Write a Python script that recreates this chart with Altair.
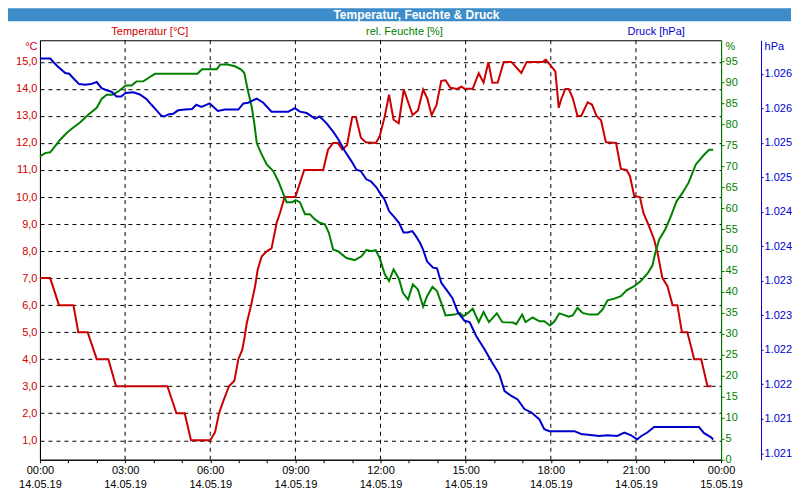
import altair as alt
import pandas as pd

RED = "#cc0000"
GREEN = "#008000"
BLUE = "#0000cc"
BAR = "#3c8dc9"
FONT = "Liberation Sans"

# ---- data (hours since 14.05.19 00:00) ----
temp_hours = [0.00, 0.36, 0.67, 1.18, 1.35, 1.68, 2.00, 2.41, 2.68, 4.49,
              4.81, 5.10, 5.32, 6.00, 6.17, 6.31, 6.46, 6.66, 6.85, 6.99,
              7.13, 7.20, 7.29, 7.44, 7.58, 7.67, 7.81, 8.00, 8.16, 8.34,
              8.46, 8.62, 9.00, 9.31, 9.98, 10.15, 10.33, 10.50, 10.65, 10.82,
              11.00, 11.13, 11.31, 11.48, 11.84, 11.97, 12.15, 12.30, 12.46, 12.64,
              12.82, 13.13, 13.32, 13.50, 13.65, 13.80, 13.97, 14.14, 14.29, 14.46,
              14.70, 14.85, 14.96, 15.25, 15.46, 15.63, 15.80, 15.94, 16.13, 16.34,
              16.61, 16.96, 17.15, 17.72, 17.82, 17.97, 18.16, 18.28, 18.36, 18.51,
              18.63, 18.77, 18.94, 19.07, 19.30, 19.45, 19.61, 19.77, 19.94, 20.30,
              20.47, 20.67, 20.79, 20.94, 21.14, 21.26, 21.46, 21.64, 21.76, 21.93,
              22.11, 22.29, 22.46, 22.62, 22.81, 22.95, 23.05, 23.30, 23.52, 23.66]
temp_values = [7.0, 7.0, 6.0, 6.0, 5.0, 5.0, 4.0, 4.0, 3.0, 3.0,
               2.0, 2.0, 1.0, 1.0, 1.3, 2.0, 2.45, 3.0, 3.2, 4.0,
               4.35, 4.75, 5.35, 6.0, 6.7, 7.3, 7.8, 8.0, 8.1, 9.05,
               9.42, 10.0, 10.0, 11.0, 11.0, 11.75, 12.0, 12.0, 11.76, 11.92,
               12.95, 12.97, 12.19, 12.03, 12.0, 12.25, 12.99, 13.79, 12.86, 12.73,
               13.98, 13.03, 13.2, 13.98, 13.64, 13.03, 13.4, 14.3, 14.32, 14.04,
               14.0, 14.08, 14.01, 14.01, 14.58, 14.23, 14.99, 14.23, 14.24, 15.0,
               15.0, 14.59, 15.0, 15.0, 15.08, 14.9, 14.65, 13.3, 13.6, 14.0,
               14.0, 13.67, 13.0, 13.0, 13.5, 13.42, 13.0, 12.84, 12.03, 12.0,
               11.04, 11.0, 10.77, 10.03, 10.0, 9.42, 8.92, 8.43, 7.94, 7.01,
               6.7, 6.0, 6.0, 5.0, 5.0, 4.43, 4.0, 4.0, 3.0, 3.0]

hum_hours = [0.00, 0.18, 0.36, 0.53, 0.71, 0.94, 1.12, 1.41, 1.71, 2.00,
             2.17, 2.35, 2.55, 2.76, 3.02, 3.23, 3.40, 3.64, 3.82, 4.05,
             5.55, 5.71, 6.23, 6.35, 6.58, 6.87, 7.09, 7.20, 7.32, 7.46,
             7.55, 7.64, 7.79, 7.99, 8.22, 8.40, 8.61, 8.69, 8.89, 9.01,
             9.16, 9.34, 9.51, 9.69, 9.86, 10.04, 10.18, 10.33, 10.50, 10.80,
             11.09, 11.33, 11.50, 11.68, 11.83, 11.97, 12.15, 12.30, 12.46, 12.65,
             12.79, 12.97, 13.14, 13.32, 13.50, 13.64, 13.83, 13.99, 14.14, 14.29,
             14.61, 14.79, 14.92, 15.08, 15.25, 15.46, 15.63, 15.82, 16.10, 16.29,
             16.66, 16.78, 16.99, 17.11, 17.36, 17.60, 17.77, 17.97, 18.13, 18.30,
             18.44, 18.63, 18.77, 18.94, 19.12, 19.36, 19.65, 19.82, 20.00, 20.24,
             20.47, 20.67, 20.94, 21.17, 21.41, 21.58, 21.68, 21.82, 22.03, 22.23,
             22.43, 22.64, 22.85, 23.11, 23.40, 23.58, 23.72]
hum_values = [72.3, 73.1, 73.3, 74.7, 76.3, 77.9, 78.9, 80.4, 82.3, 83.9,
              86.0, 87.0, 87.0, 87.8, 89.2, 89.2, 90.2, 90.2, 91.0, 92.0,
              92.0, 93.1, 93.1, 94.2, 94.3, 93.8, 93.0, 92.2, 88.2, 84.2,
              80.3, 75.5, 73.1, 70.4, 68.8, 66.4, 62.8, 61.4, 61.4, 61.9,
              61.4, 58.5, 58.5, 57.3, 56.5, 56.1, 54.1, 50.1, 49.7, 48.1,
              47.6, 48.5, 50.0, 49.7, 49.95, 48.1, 44.2, 42.6, 45.4, 43.1,
              39.8, 38.2, 41.8, 40.6, 36.5, 39.0, 41.2, 40.2, 37.4, 34.4,
              34.6, 35.0, 34.2, 35.0, 36.0, 32.8, 35.2, 32.8, 34.9, 32.8,
              32.7, 32.3, 34.6, 32.8, 33.9, 33.0, 33.0, 32.0, 33.0, 34.9,
              34.6, 34.1, 34.4, 36.2, 35.0, 34.6, 34.6, 35.8, 38.0, 38.4,
              39.0, 40.4, 41.4, 42.6, 44.4, 46.3, 49.3, 52.5, 54.9, 58.0,
              61.6, 63.6, 66.0, 70.4, 72.7, 73.9, 73.9]

press_hours = [0.00, 0.36, 0.59, 0.89, 1.03, 1.21, 1.38, 1.59, 1.80, 2.00,
               2.17, 2.35, 2.52, 2.70, 2.86, 3.02, 3.29, 3.52, 3.76, 3.93,
               4.11, 4.28, 4.38, 4.52, 4.69, 4.87, 5.11, 5.36, 5.51, 5.69,
               5.98, 6.27, 6.52, 6.99, 7.17, 7.34, 7.64, 7.87, 8.16, 8.75,
               8.98, 9.16, 9.40, 9.69, 9.86, 10.10, 10.33, 10.51, 10.74, 10.98,
               11.15, 11.30, 11.50, 11.66, 11.86, 11.98, 12.14, 12.30, 12.51, 12.65,
               12.81, 12.96, 13.12, 13.24, 13.39, 13.50, 13.64, 13.85, 13.99, 14.14,
               14.32, 14.53, 14.73, 14.96, 15.14, 15.37, 15.66, 15.91, 16.19, 16.37,
               16.61, 16.83, 17.07, 17.32, 17.60, 17.77, 17.95, 18.83, 19.07, 19.71,
               19.99, 20.34, 20.59, 20.83, 21.04, 21.19, 21.40, 21.64, 23.22, 23.40,
               23.65, 23.72]
press_values = [1026.42, 1026.42, 1026.32, 1026.21, 1026.20, 1026.12, 1026.05, 1026.04, 1026.05, 1026.08,
                1025.99, 1025.96, 1025.94, 1025.87, 1025.87, 1025.92, 1025.93, 1025.90, 1025.83, 1025.75,
                1025.67, 1025.59, 1025.58, 1025.61, 1025.62, 1025.67, 1025.68, 1025.69, 1025.75, 1025.72,
                1025.77, 1025.66, 1025.68, 1025.68, 1025.77, 1025.78, 1025.84, 1025.78, 1025.65, 1025.65,
                1025.70, 1025.65, 1025.63, 1025.55, 1025.58, 1025.48, 1025.36, 1025.25, 1025.08, 1024.93,
                1024.81, 1024.79, 1024.67, 1024.64, 1024.55, 1024.47, 1024.38, 1024.21, 1024.11, 1024.04,
                1023.90, 1023.90, 1023.92, 1023.85, 1023.75, 1023.65, 1023.48, 1023.39, 1023.38, 1023.17,
                1023.07, 1022.95, 1022.74, 1022.62, 1022.60, 1022.40, 1022.21, 1022.03, 1021.84, 1021.60,
                1021.53, 1021.48, 1021.34, 1021.29, 1021.19, 1021.05, 1021.02, 1021.02, 1020.98, 1020.95,
                1020.96, 1020.95, 1021.00, 1020.96, 1020.90, 1020.95, 1021.00, 1021.08, 1021.08, 1020.99,
                1020.93, 1020.90]

grid_hours = [3, 6, 9, 12, 15, 18, 21]
hour_ticks = list(range(0, 25))
temp_ticks = list(range(1, 16))
hum_ticks = list(range(0, 100, 5))
press_ticks = [1020.7, 1021.2, 1021.7, 1022.2, 1022.7, 1023.2,
               1023.7, 1024.2, 1024.7, 1025.2, 1025.7, 1026.2]

title_text = "Temperatur, Feuchte & Druck"
legend_labels = ["Temperatur [°C]", "rel. Feuchte [%]", "Druck [hPa]"]

W, H = 682, 420

df_t = pd.DataFrame({"h": temp_hours, "temp": temp_values})
df_h = pd.DataFrame({"h": hum_hours, "hum": hum_values})
df_p = pd.DataFrame({"h": press_hours, "press": press_values})
df_g = pd.DataFrame({"h": grid_hours})
one = alt.Data(values=[{}])

x_label_expr = ("datum.value % 3 == 0 ? ["
                "(datum.value == 24 ? '00' : (datum.value < 10 ? '0' : '') + datum.value) + ':00', "
                "datum.value == 24 ? '15.05.19' : '14.05.19'] : ''")

x_axis = alt.Axis(values=hour_ticks, labelExpr=x_label_expr, grid=False,
                  tickSize=3, tickColor="black", domainColor="black",
                  labelColor="black", labelFont=FONT, labelFontSize=11,
                  labelPadding=2, labelLineHeight=14, labelFlush=False,
                  labelOverlap=False, title=None)
x_scale = alt.Scale(domain=[0, 24], nice=False, zero=False)


def xenc():
    return alt.X("h:Q", scale=x_scale, axis=x_axis)


bar = alt.Chart(one).mark_rect(color=BAR).encode(
    x=alt.value(-32), x2=alt.value(752), y=alt.value(-32), y2=alt.value(-19))

vgrid = alt.Chart(df_g).mark_rule(color="black", strokeWidth=1, strokeDash=[4, 4]).encode(x=xenc())

temp_line = alt.Chart(df_t).mark_line(color=RED, strokeWidth=2).encode(
    x=xenc(),
    y=alt.Y("temp:Q", scale=alt.Scale(domain=[0.28, 15.8], nice=False, zero=False),
            axis=alt.Axis(orient="left", values=temp_ticks,
                          labelExpr="replace(format(datum.value, '.1f'), '.', ',')",
                          labelColor=RED, labelFont=FONT, labelFontSize=11,
                          ticks=False, labelPadding=3, domainColor="black",
                          grid=True, gridColor="black", gridDash=[4, 4], gridOpacity=1,
                          title="°C", titleAngle=0, titleX=-3, titleY=6,
                          titleAlign="right", titleBaseline="middle", titleColor=RED,
                          titleFont=FONT, titleFontSize=11, titleFontWeight="normal")))

hum_line = alt.Chart(df_h).mark_line(color=GREEN, strokeWidth=2).encode(
    x=xenc(),
    y=alt.Y("hum:Q", scale=alt.Scale(domain=[0, 100], nice=False, zero=False),
            axis=alt.Axis(orient="right", values=hum_ticks, format="d",
                          labelColor=GREEN, labelFont=FONT, labelFontSize=11,
                          tickSize=3, tickColor=GREEN, labelPadding=1, domainColor=GREEN,
                          grid=False, labelOverlap=False,
                          title="%", titleAngle=0, titleX=4, titleY=6,
                          titleAlign="left", titleBaseline="middle", titleColor=GREEN,
                          titleFont=FONT, titleFontSize=11, titleFontWeight="normal")))

press_line = alt.Chart(df_p).mark_line(color=BLUE, strokeWidth=2).encode(
    x=xenc(),
    y=alt.Y("press:Q", scale=alt.Scale(domain=[1020.606, 1026.685], nice=False, zero=False),
            axis=alt.Axis(orient="right", offset=40, values=press_ticks,
                          labelExpr="format(datum.value / 1000, '.3f')",
                          labelColor=BLUE, labelFont=FONT, labelFontSize=11,
                          tickSize=2, tickColor=BLUE, labelPadding=1, domainColor=BLUE,
                          grid=False, labelOverlap=False,
                          title="hPa", titleAngle=0, titleX=3, titleY=6,
                          titleAlign="left", titleBaseline="middle", titleColor=BLUE,
                          titleFont=FONT, titleFontSize=11, titleFontWeight="normal")))

title_mark = alt.Chart(one).mark_text(text=title_text, font=FONT, fontSize=12, fontWeight="bold",
                                      color="white", align="center", baseline="middle").encode(
    x=alt.value(377), y=alt.value(-25.5))

leg_colors = [RED, GREEN, BLUE]
leg_x = [110, 365, 617]
legends = [
    alt.Chart(one).mark_text(text=lab, font=FONT, fontSize=11, color=col,
                             align="center", baseline="middle").encode(
        x=alt.value(px), y=alt.value(-8))
    for lab, col, px in zip(legend_labels, leg_colors, leg_x)
]

chart = alt.layer(bar, vgrid, temp_line, hum_line, press_line, title_mark, *legends).resolve_scale(
    y="independent"
).properties(
    width=W, height=H, padding=0
).configure(
    font=FONT, background="white"
).configure_view(
    stroke="black", strokeWidth=1
)

chart.save("out.html", embed_options={"renderer": "svg", "actions": False})
